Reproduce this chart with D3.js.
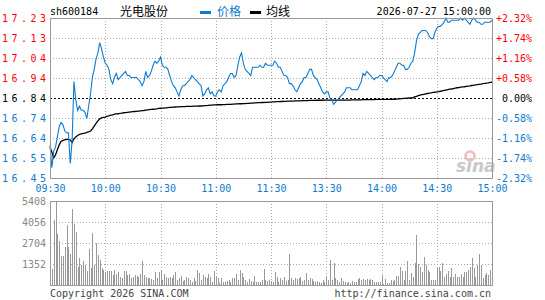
<!DOCTYPE html>
<html>
<head>
<meta charset="utf-8">
<script src="https://cdn.jsdelivr.net/npm/d3@7"></script>
<style>
body { margin: 0; background: #fff; }
svg text { font-family: "DejaVu Sans Mono", monospace; font-size: 10px; }
</style>
</head>
<body>
<div id="chart"></div>
<script>
// sh600184 intraday minute chart

var code = 'sh600184';
var stockName = '光电股份';
var dateText = '2026-07-27 15:00:00';
var legendNames = ['价格', '均线'];
var prevClose = 16.84;

var timeTicks = [0, 30, 60, 90, 120, 150, 180, 210, 240];
var timeLabels = ['09:30', '10:00', '10:30', '11:00', '11:30', '13:30', '14:00', '14:30', '15:00'];
var pctTicks = [2.32, 1.74, 1.16, 0.58, 0, -0.58, -1.16, -1.74, -2.32];
var pctLabels = ['+2.32%', '+1.74%', '+1.16%', '+0.58%', '0.00%', '-0.58%', '-1.16%', '-1.74%', '-2.32%'];
var priceLabels = ['17.23', '17.13', '17.04', '16.94', '16.84', '16.74', '16.64', '16.55', '16.45'];
var volTicks = [1352, 2704, 4056, 5408];

// one value per minute, 09:30 .. 11:30 / 13:00 .. 15:00
var prices = [
	16.61,16.50,16.58,16.60,16.65,16.70,16.72,16.71,16.68,16.67,
	16.67,16.52,16.63,16.92,16.83,16.78,16.80,16.78,16.78,16.77,
	16.74,16.80,16.86,16.94,16.98,17.03,17.06,17.11,17.08,17.04,
	17.01,17.00,16.98,16.93,16.91,16.94,16.96,16.93,16.94,16.95,
	16.96,16.97,16.95,16.95,16.94,16.94,16.94,16.94,16.93,16.92,
	16.90,16.92,16.97,16.94,16.95,16.97,17.00,17.02,17.01,17.02,
	17.04,17.00,16.99,16.99,16.98,16.95,16.92,16.90,16.89,16.87,
	16.85,16.88,16.90,16.90,16.91,16.92,16.93,16.95,16.94,16.93,
	16.92,16.91,16.90,16.85,16.86,16.88,16.89,16.86,16.87,16.85,
	16.85,16.87,16.88,16.87,16.90,16.91,16.92,16.94,16.96,16.96,
	16.94,16.95,17.00,17.04,17.06,17.01,16.98,16.97,16.96,16.95,
	16.99,16.99,16.99,16.99,17.00,16.99,16.99,17.01,17.00,17.00,
	17.00,17.00,17.02,17.01,16.99,16.99,16.97,16.95,16.95,16.94,
	16.91,16.91,16.90,16.88,16.87,16.89,16.91,16.92,16.94,16.94,
	16.96,16.98,16.98,16.95,16.94,16.93,16.91,16.89,16.87,16.86,
	16.87,16.87,16.84,16.83,16.81,16.82,16.83,16.84,16.85,16.86,
	16.87,16.89,16.89,16.89,16.88,16.88,16.88,16.88,16.90,16.92,
	16.96,16.95,16.97,16.96,16.95,16.94,16.93,16.94,16.94,16.95,
	16.95,16.94,16.93,16.92,16.94,16.94,16.95,16.97,16.99,17.01,
	17.01,17.00,17.00,16.98,16.98,16.99,17.01,17.02,17.06,17.12,
	17.15,17.16,17.17,17.17,17.17,17.16,17.14,17.13,17.13,17.16,
	17.18,17.19,17.19,17.20,17.21,17.23,17.21,17.21,17.22,17.22,
	17.22,17.22,17.22,17.23,17.22,17.23,17.22,17.21,17.20,17.22,
	17.23,17.22,17.21,17.21,17.20,17.20,17.21,17.21,17.21,17.21,
	17.22
];

var avgPrices = [
	16.600,16.577,16.547,16.562,16.587,16.611,16.628,16.633,16.635,16.638,
	16.638,16.635,16.623,16.640,16.650,16.657,16.662,16.665,16.667,16.669,
	16.672,16.674,16.679,16.689,16.703,16.716,16.728,16.738,16.743,16.745,
	16.747,16.751,16.753,16.756,16.758,16.761,16.762,16.763,16.765,16.766,
	16.768,16.769,16.770,16.771,16.772,16.773,16.774,16.775,16.776,16.777,
	16.778,16.779,16.781,16.782,16.783,16.784,16.785,16.786,16.787,16.789,
	16.790,16.791,16.791,16.792,16.793,16.794,16.794,16.795,16.796,16.797,
	16.797,16.798,16.798,16.798,16.799,16.799,16.799,16.799,16.800,16.800,
	16.800,16.801,16.801,16.802,16.803,16.803,16.804,16.805,16.805,16.806,
	16.806,16.807,16.807,16.807,16.808,16.808,16.809,16.809,16.809,16.810,
	16.810,16.811,16.811,16.812,16.812,16.813,16.813,16.814,16.814,16.815,
	16.815,16.816,16.816,16.817,16.817,16.818,16.818,16.819,16.819,16.820,
	16.820,16.821,16.821,16.822,16.822,16.823,16.823,16.824,16.824,16.825,
	16.825,16.825,16.825,16.826,16.826,16.826,16.826,16.827,16.827,16.827,
	16.827,16.828,16.828,16.828,16.828,16.829,16.829,16.829,16.829,16.830,
	16.830,16.830,16.830,16.830,16.830,16.830,16.830,16.830,16.830,16.830,
	16.830,16.830,16.830,16.830,16.831,16.831,16.831,16.831,16.831,16.831,
	16.832,16.832,16.832,16.832,16.832,16.832,16.832,16.833,16.833,16.833,
	16.833,16.833,16.833,16.833,16.833,16.833,16.834,16.834,16.835,16.836,
	16.836,16.837,16.838,16.838,16.839,16.840,16.840,16.841,16.845,16.848,
	16.852,16.854,16.856,16.858,16.860,16.862,16.864,16.865,16.867,16.868,
	16.870,16.871,16.873,16.875,16.877,16.879,16.881,16.883,16.884,16.886,
	16.888,16.890,16.891,16.893,16.894,16.895,16.897,16.898,16.899,16.901,
	16.902,16.904,16.905,16.907,16.908,16.910,16.911,16.913,16.914,16.916,
	16.917
];

var volumes = [
	858,1030,4185,5408,3262,2833,1867,1867,2468,3863,
	2468,1996,4893,3927,3434,1180,1760,1288,1545,1288,
	901,2318,1116,3348,1288,2682,1931,1610,1073,966,
	858,901,901,901,644,966,687,815,537,472,
	901,901,644,687,429,537,644,601,537,687,
	1545,644,537,472,429,386,322,858,429,815,
	966,322,687,537,472,537,429,644,858,322,
	472,601,258,322,537,429,322,215,429,258,
	966,751,322,644,537,472,687,537,215,902,
	537,429,107,472,172,215,258,322,172,429,
	472,687,322,966,751,537,322,172,386,258,
	215,601,172,215,172,322,1030,322,258,322,
	258,172,816,537,215,472,322,537,258,322,
	1977,429,322,429,386,472,537,258,322,751,
	322,429,386,258,172,258,172,107,322,172,
	537,322,1610,322,1397,429,322,215,472,258,
	172,107,172,107,258,172,172,386,429,322,
	386,322,386,322,386,322,172,172,172,172,
	644,43,386,107,107,322,258,322,601,601,
	1180,902,322,902,1545,322,751,537,1395,3220,
	1331,1180,816,1825,1288,966,816,322,322,322,
	1180,1180,902,1395,537,687,902,537,1116,537,
	687,537,537,687,537,859,816,966,1180,1717,
	1073,537,1288,1977,1288,472,644,751,644,966,
	1395
];

var width = 545;
var height = 300;
var red = '#ff0000';
var blue = '#0d7bd0';
var gridColor = '#aaa';
var borderColor = '#999';

var svg = d3.select('#chart')
	.append('svg')
	.attr('width', width)
	.attr('height', height);

var left = 50, right = 492;
var priceTop = 18, priceBottom = 178;
var volTop = 201, volBottom = 285;

var x = d3.scaleLinear().domain([0, 240]).range([left, right]);
var pct = d3.scaleLinear().domain([-2.32, 2.32]).range([priceBottom, priceTop]);
var y = d3.scaleLinear()
	.domain([prevClose * (1 - 0.0232), prevClose * (1 + 0.0232)])
	.range([priceBottom, priceTop]);
var yVol = d3.scaleLinear().domain([0, 5408]).range([volBottom, volTop]);

function signColor(d) {
	return d > 0 ? red : (d < 0 ? blue : '#000');
}

// grid
var grid = svg.append('g').attr('shape-rendering', 'crispEdges');
grid.selectAll('.hgrid')
	.data(pctTicks.filter(d => d !== 0 && Math.abs(d) !== 2.32))
	.enter().append('line')
	.attr('x1', left).attr('x2', right)
	.attr('y1', d => Math.round(pct(d)) + 0.5).attr('y2', d => Math.round(pct(d)) + 0.5)
	.attr('stroke', gridColor).attr('stroke-dasharray', '1,2');
grid.selectAll('.vgrid')
	.data(timeTicks.slice(1, -1))
	.enter().append('line')
	.attr('x1', d => Math.round(x(d)) + 0.5).attr('x2', d => Math.round(x(d)) + 0.5)
	.attr('y1', priceTop).attr('y2', priceBottom)
	.attr('stroke', gridColor).attr('stroke-dasharray', '1,2');
grid.selectAll('.vhgrid')
	.data(volTicks.slice(0, -1))
	.enter().append('line')
	.attr('x1', left).attr('x2', right)
	.attr('y1', d => Math.round(yVol(d)) + 0.5).attr('y2', d => Math.round(yVol(d)) + 0.5)
	.attr('stroke', gridColor).attr('stroke-dasharray', '1,2');
grid.selectAll('.vvgrid')
	.data(timeTicks.slice(1, -1))
	.enter().append('line')
	.attr('x1', d => Math.round(x(d)) + 0.5).attr('x2', d => Math.round(x(d)) + 0.5)
	.attr('y1', volTop).attr('y2', volBottom)
	.attr('stroke', gridColor).attr('stroke-dasharray', '1,2');

// previous close
grid.append('line')
	.attr('x1', left).attr('x2', right)
	.attr('y1', Math.round(pct(0)) + 0.5).attr('y2', Math.round(pct(0)) + 0.5)
	.attr('stroke', '#000').attr('stroke-dasharray', '2,2');

// sina watermark
svg.append('circle')
	.attr('cx', 470).attr('cy', 156).attr('r', 4.5)
	.attr('fill', 'none').attr('stroke', '#f4b8b8').attr('stroke-width', 2.5);
svg.append('text')
	.attr('x', 456).attr('y', 172)
	.style('font-family', '"DejaVu Sans", sans-serif')
	.style('font-size', '17px').style('font-style', 'italic').style('font-weight', 'bold')
	.attr('fill', '#c8c8c8')
	.text('sina');

// volume bars
svg.append('g')
	.attr('shape-rendering', 'crispEdges')
	.selectAll('rect')
	.data(volumes)
	.enter().append('rect')
	.attr('x', (d, i) => Math.round(x(i)))
	.attr('y', d => yVol(d))
	.attr('width', 1)
	.attr('height', d => volBottom - yVol(d))
	.attr('fill', '#999');

// lines
svg.append('path')
	.datum(avgPrices)
	.attr('fill', 'none')
	.attr('stroke', '#000')
	.attr('stroke-width', 1.3)
	.attr('d', d3.line().x((d, i) => x(i)).y(d => y(d)));

svg.append('path')
	.datum(prices)
	.attr('fill', 'none')
	.attr('stroke', blue)
	.attr('stroke-width', 1.1)
	.attr('d', d3.line().x((d, i) => x(i)).y(d => y(d)));

// borders
svg.append('rect')
	.attr('x', left + 0.5).attr('y', priceTop + 0.5)
	.attr('width', right - left).attr('height', priceBottom - priceTop)
	.attr('fill', 'none').attr('stroke', borderColor).attr('shape-rendering', 'crispEdges');
svg.append('rect')
	.attr('x', left + 0.5).attr('y', volTop + 0.5)
	.attr('width', right - left).attr('height', volBottom - volTop)
	.attr('fill', 'none').attr('stroke', borderColor).attr('shape-rendering', 'crispEdges');

// axes
var leftAxis = svg.append('g')
	.attr('transform', 'translate(' + left + ',0)')
	.call(d3.axisLeft(pct).tickValues(pctTicks).tickSize(0).tickPadding(4)
		.tickFormat((d, i) => priceLabels[i]));
leftAxis.select('.domain').remove();
leftAxis.selectAll('text')
	.attr('fill', d => signColor(d))
	.attr('textLength', 44)
	.attr('lengthAdjust', 'spacing')
	.style('font-family', '"DejaVu Sans Mono", monospace').style('font-size', '10px');

var rightAxis = svg.append('g')
	.attr('transform', 'translate(' + right + ',0)')
	.call(d3.axisRight(pct).tickValues(pctTicks).tickSize(0)
		.tickFormat((d, i) => pctLabels[i]));
rightAxis.select('.domain').remove();
rightAxis.selectAll('text')
	.attr('x', 40)
	.attr('text-anchor', 'end')
	.attr('fill', d => signColor(d))
	.style('font-family', '"DejaVu Sans Mono", monospace').style('font-size', '10px');

var timeAxis = svg.append('g')
	.attr('transform', 'translate(0,' + priceBottom + ')')
	.call(d3.axisBottom(x).tickValues(timeTicks).tickSize(0).tickPadding(7)
		.tickFormat((d, i) => timeLabels[i]));
timeAxis.select('.domain').remove();
timeAxis.selectAll('text')
	.attr('fill', blue)
	.style('font-family', '"DejaVu Sans Mono", monospace').style('font-size', '10px');

var volAxis = svg.append('g')
	.attr('transform', 'translate(' + left + ',0)')
	.call(d3.axisLeft(yVol).tickValues(volTicks).tickSize(0).tickPadding(4)
		.tickFormat(d => d));
volAxis.select('.domain').remove();
volAxis.selectAll('text')
	.attr('fill', '#888')
	.style('font-family', '"DejaVu Sans Mono", monospace').style('font-size', '10px');

// header
svg.append('text').attr('x', 50).attr('y', 15).attr('fill', '#000').text(code);
svg.append('text').attr('x', 120).attr('y', 16).attr('fill', '#000')
	.style('font-family', '"Noto Sans CJK SC", sans-serif').style('font-size', '12px')
	.text(stockName);

svg.append('rect').attr('x', 200).attr('y', 11).attr('width', 11).attr('height', 3).attr('fill', blue);
svg.append('text').attr('x', 217).attr('y', 16).attr('fill', blue)
	.style('font-family', '"Noto Sans CJK SC", sans-serif').style('font-size', '12px')
	.text(legendNames[0]);
svg.append('rect').attr('x', 250).attr('y', 11).attr('width', 11).attr('height', 3).attr('fill', '#000');
svg.append('text').attr('x', 266).attr('y', 16).attr('fill', '#000')
	.style('font-family', '"Noto Sans CJK SC", sans-serif').style('font-size', '12px')
	.text(legendNames[1]);

svg.append('text').attr('x', 491).attr('y', 15).attr('text-anchor', 'end').attr('fill', '#000')
	.text(dateText);

// footer
svg.append('text').attr('x', 50).attr('y', 297).attr('fill', '#444').text('Copyright 2026 SINA.COM');
svg.append('text').attr('x', 491).attr('y', 297).attr('text-anchor', 'end').attr('fill', '#444')
	.text('http://finance.sina.com.cn');
</script>
</body>
</html>
